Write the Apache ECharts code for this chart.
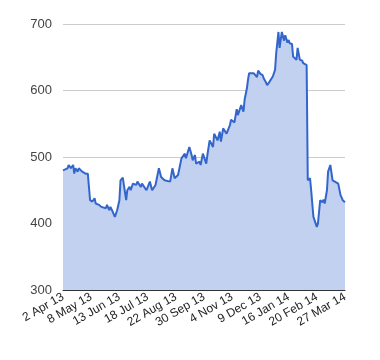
<!DOCTYPE html>
<html><head><meta charset="utf-8">
<script src="https://cdn.jsdelivr.net/npm/echarts@6/dist/echarts.min.js"></script>
<style>html,body{margin:0;padding:0;background:#fff}#c{width:380px;height:360px}</style>
</head><body><div id="c"></div>
<script>
// x = trading day index from 2 Apr 13 (ticks every 25 days)
const tickLabels = ["2 Apr 13","8 May 13","13 Jun 13","18 Jul 13","22 Aug 13","30 Sep 13","4 Nov 13","9 Dec 13","16 Jan 14","20 Feb 14","27 Mar 14"];
const days = [0,4,5,7,9,10,11,13,14,17,20,22,23,24,26,28,29,32,34,35,38,39,41,42,44,46,48,50,51,53,54,56,57,59,60,62,65,66,69,70,74,77,79,82,85,87,90,95,97,99,102,105,108,109,112,114,115,117,118,121,122,124,127,128,130,133,134,137,139,140,142,145,148,149,152,154,155,158,160,161,163,164,165,169,170,172,173,175,177,178,180,181,183,184,186,188,189,191,192,194,196,197,199,200,201,203,204,207,208,210,212,213,216,217,219,220,222,223,225,226,228,230,231,232,234,235,237,239,241,244,246,247,248,250];
const prices = [480,483,488,483,488,475,483,478,483,478,475,475,455,435,433,438,430,428,425,428,423,428,420,425,418,410,420,435,465,469,470,435,450,455,450,460,458,463,455,460,450,463,450,458,483,470,465,463,483,468,473,498,505,498,515,503,495,503,490,493,488,505,490,503,525,515,535,525,538,523,543,535,548,556,552,572,563,578,568,586,603,616,626,626,623,620,630,625,623,618,612,608,613,616,621,631,656,688,664,688,675,683,672,676,671,670,651,646,664,646,645,641,638,465,468,450,410,405,395,400,435,432,436,430,450,478,488,465,463,460,443,445,435,432];
const yTicks = {min:300, max:700, step:100};

const chart = echarts.init(document.getElementById('c'));
chart.setOption({
  animation:false,
  grid:{left:63, right:35, top:24, bottom:70, containLabel:false},
  xAxis:{type:'value', min:0, max:250, interval:25,
    axisLine:{show:true, onZero:false, lineStyle:{color:'#333', width:1}},
    axisTick:{show:false}, splitLine:{show:false},
    axisLabel:{rotate:30, margin:6, color:'#222', fontSize:12, fontFamily:'Arial, "Liberation Sans", sans-serif',
      formatter:v=>tickLabels[Math.round(v/25)]||''}},
  yAxis:{type:'value', min:yTicks.min, max:yTicks.max, interval:yTicks.step,
    axisLine:{show:false}, axisTick:{show:false},
    splitLine:{lineStyle:{color:'#cccccc', width:1}},
    axisLabel:{margin:11, color:'#444', fontSize:13, fontFamily:'Arial, "Liberation Sans", sans-serif'}},
  series:[{type:'line', data:days.map((d,i)=>[d,prices[i]]), showSymbol:false, symbol:'none',
    lineStyle:{color:'#3366cc', width:2}, areaStyle:{color:'#c2d1f0', opacity:1, origin:'start'}}]
});
</script></body></html>
